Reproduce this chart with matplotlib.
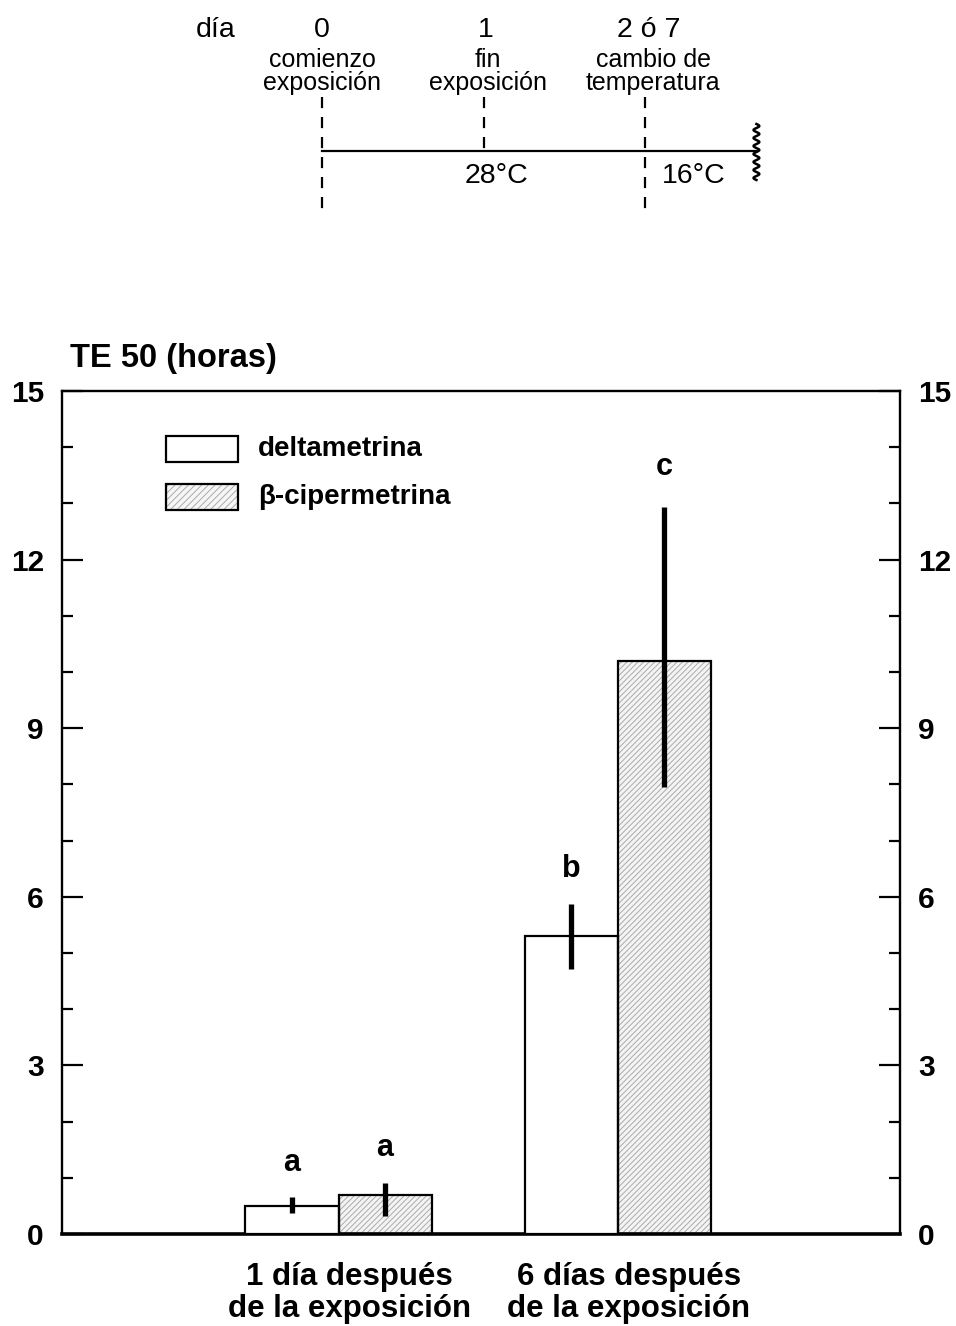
import numpy as np
import matplotlib
matplotlib.use('Agg')
import matplotlib.pyplot as plt
from matplotlib.patches import Rectangle

plt.rcParams['font.family'] = ['Liberation Sans', 'DejaVu Sans']
plt.rcParams['hatch.linewidth'] = 0.7

# bar chart data (TE 50 in hours)
groups = ['1 día después\nde la exposición', '6 días después\nde la exposición']
series = ['deltametrina', 'β-cipermetrina']
te50 = {
    'deltametrina': [0.50, 5.30],
    'β-cipermetrina': [0.69, 10.20],
}
err_low = {
    'deltametrina': [0.38, 4.72],
    'β-cipermetrina': [0.32, 7.95],
}
err_high = {
    'deltametrina': [0.65, 5.87],
    'β-cipermetrina': [0.90, 12.93],
}
letters = {
    'deltametrina': ['a', 'b'],
    'β-cipermetrina': ['a', 'c'],
}
letter_y = {
    'deltametrina': [1.26, 6.50],
    'β-cipermetrina': [1.53, 13.65],
}

# timeline data
days = [0, 1, 2]
day_labels = ['0', '1', '2 ó 7']
day_notes = [('comienzo', 'exposición'), ('fin', 'exposición'), ('cambio de', 'temperatura')]
temps = ['28°C', '16°C']
temp_pos = [1.08, 2.30]
timeline_end = 2.69

fig = plt.figure(figsize=(9.56, 13.26), dpi=100)

# ---- timeline on top ----
W, H = 956, 1326
top_h = 230
axt = fig.add_axes([0, 1 - top_h / H, 1, top_h / H])
px0, pxd = 322, 161.5
axt.set_xlim((0 - px0) / pxd, (W - px0) / pxd)
axt.set_ylim(top_h, 0)
axt.axis('off')

axt.text((216 - px0) / pxd, 30, 'día', ha='center', va='center', fontsize=20.5)
for d, lab, notes in zip(days, day_labels, day_notes):
    dx = 0.05 if d == 2 else (0.03 if d == 1 else 0.0)
    axt.text(d + dx * 0.5, 30, lab, ha='center', va='center', fontsize=20.5)
    axt.text(d + dx, 60, notes[0], ha='center', va='center', fontsize=18)
    axt.text(d + dx, 83, notes[1], ha='center', va='center', fontsize=18)
    y_end = 151 if d == 1 else 212
    axt.plot([d, d], [97, y_end], color='black', lw=1.6, ls=(0, (5, 4)))
axt.plot([0, timeline_end], [151, 151], color='black', lw=1.6)
for t, tx in zip(temps, temp_pos):
    axt.text(tx, 176, t, ha='center', va='center', fontsize=20.5)
# wavy end mark
yy = np.linspace(124, 180, 200)
axt.plot(timeline_end + 0.018 * np.sin((yy - 124) / 56 * 2 * np.pi * 7), yy,
         color='black', lw=1.8)

# ---- bar chart ----
ax = fig.add_axes([62 / W, 1 - 1234 / H, (900 - 62) / W, (1234 - 391) / H])
width = 1 / 3
centers = np.arange(1, len(groups) + 1) - 0.01
offsets = {'deltametrina': -width / 2, 'β-cipermetrina': width / 2}

for s in series:
    xs = centers + offsets[s]
    vals = np.array(te50[s])
    if s == 'β-cipermetrina':
        ax.bar(xs, vals, width, color='#f4f4f4', edgecolor='#aaaaaa', lw=0,
               hatch='//////', zorder=2)
        ax.bar(xs, vals, width, fill=False, edgecolor='black', lw=1.6, zorder=3)
    else:
        ax.bar(xs, vals, width, color='white', edgecolor='black', lw=1.6, zorder=3)
    ax.vlines(xs, err_low[s], err_high[s], color='black', lw=3.8, zorder=4)
    for x, ly, lt in zip(xs, letter_y[s], letters[s]):
        ax.text(x, ly, lt, ha='center', va='center', fontsize=22, fontweight='bold')

ax.set_xlim(0, 3)
ax.set_ylim(0, 15)
ax.set_yticks(np.arange(0, 16, 3))
ax.set_yticks(np.arange(0, 16, 1), minor=True)
ax.tick_params(axis='y', which='both', direction='in', left=True, right=True,
               labelleft=True, labelright=True, labelsize=21.5, width=1.6, pad=13)
ax.tick_params(axis='y', which='major', length=15)
ax.tick_params(axis='y', which='minor', length=8)
for lab in ax.get_yticklabels():
    lab.set_fontweight('bold')
ax.set_xticks(centers + 0.04)
ax.set_xticklabels(groups, fontsize=22.5, fontweight='bold', linespacing=1.1)
ax.tick_params(axis='x', length=0, pad=20)
for sp in ax.spines.values():
    sp.set_linewidth(1.7)
ax.spines['bottom'].set_linewidth(2.6)

ax.text(0.01, 1.02, 'TE 50 (horas)', transform=ax.transAxes, fontsize=23.5,
        fontweight='bold', ha='left', va='bottom')

# legend
lx, lw_, lh = (166 - 62) / 838, 72 / 838, 26 / 843
for i, s in enumerate(series):
    ly = 1 - ((462 + 48 * i) - 391) / 843
    if s == 'β-cipermetrina':
        ax.add_patch(Rectangle((lx, ly), lw_, lh, transform=ax.transAxes,
                               facecolor='#f6f6f6', edgecolor='#aaaaaa', lw=0,
                               hatch='/////'))
    ax.add_patch(Rectangle((lx, ly), lw_, lh, transform=ax.transAxes,
                           fill=False, edgecolor='black', lw=1.6))
    ax.text(lx + lw_ + 0.024, ly + lh / 2, s, transform=ax.transAxes,
            fontsize=20, fontweight='bold', ha='left', va='center')

fig.savefig('out.png', dpi=100)
